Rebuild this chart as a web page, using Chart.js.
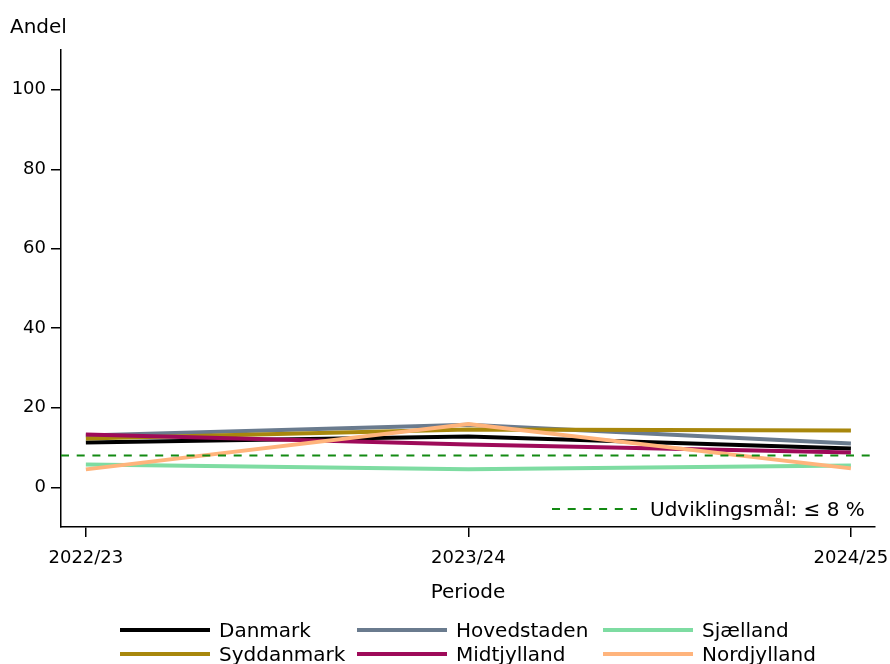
<!DOCTYPE html>
<html><head><meta charset="utf-8">
<script src="https://cdn.jsdelivr.net/npm/chart.js@4/dist/chart.umd.min.js"></script>
<style>html,body{margin:0;padding:0;background:#fff}canvas{display:block}</style>
</head><body>
<canvas id="c" width="890" height="664"></canvas>
<script>
// ---- data ----
const periods = ['2022/23', '2023/24', '2024/25'];
const danmark     = [11.25, 12.75, 9.75];
const hovedstaden = [13.0, 15.75, 11.0];
const sjaelland   = [5.75, 4.5, 5.5];
const syddanmark  = [12.25, 14.5, 14.25];
const midtjylland = [13.25, 10.75, 8.75];
const nordjylland = [4.5, 15.9, 4.75];
const target = 8;
const yTicks = [0, 20, 40, 60, 80, 100];
const seriesNames = ['Danmark', 'Hovedstaden', 'Sjælland', 'Syddanmark', 'Midtjylland', 'Nordjylland'];
const seriesValues = [danmark, hovedstaden, sjaelland, syddanmark, midtjylland, nordjylland];
const seriesColors = ['#000000', '#6a7b8e', '#7edca2', '#a8870c', '#9e0a59', '#ffb47c'];
const targetLabel = 'Udviklingsmål: ≤ 8 %';

const FONT = '"DejaVu Sans", "Liberation Sans", sans-serif';
const xMin = -0.065, xMax = 2.063;

const datasets = seriesNames.map((name, i) => ({
  label: name,
  data: seriesValues[i].map((v, j) => ({x: j, y: v})),
  borderColor: seriesColors[i],
  backgroundColor: seriesColors[i],
  borderWidth: 4,
  pointRadius: 0,
  tension: 0,
  fill: false,
  order: seriesNames.length - i + 1
}));
datasets.push({
  label: 'target',
  data: [{x: xMin, y: target}, {x: xMax, y: target}],
  borderColor: '#138a13',
  borderWidth: 2,
  borderDash: [8, 7.7],
  pointRadius: 0,
  fill: false,
  order: 0
});

const textPlugin = {
  id: 'texts',
  afterDraw(chart) {
    const c = chart.ctx;
    const ca = chart.chartArea;
    c.save();
    c.fillStyle = '#000';
    c.textBaseline = 'alphabetic';
    // y title
    c.font = '20px ' + FONT;
    c.textAlign = 'left';
    c.fillText('Andel', 10, 33);
    // x title
    c.textAlign = 'center';
    c.fillText('Periode', (ca.left + ca.right) / 2, 598);
    // target annotation
    c.strokeStyle = '#138a13';
    c.lineWidth = 2;
    c.setLineDash([8, 7.7]);
    c.beginPath(); c.moveTo(552, 509); c.lineTo(637, 509); c.stroke();
    c.setLineDash([]);
    c.font = '20px ' + FONT;
    c.textAlign = 'left';
    c.fillText(targetLabel, 650, 516);
    // legend
    const colX = [120, 357, 603];
    const rowY = [630, 654];
    c.font = '20px ' + FONT;
    seriesNames.forEach((n, i) => {
      const col = i % 3, row = Math.floor(i / 3);
      const x = colX[col], y = rowY[row];
      c.strokeStyle = seriesColors[i];
      c.lineWidth = 4;
      c.beginPath(); c.moveTo(x, y); c.lineTo(x + 90, y); c.stroke();
      c.fillText(n, x + 99, y + 7);
    });
    c.restore();
  }
};

new Chart(document.getElementById('c'), {
  type: 'line',
  data: {datasets},
  options: {
    responsive: false,
    animation: false,
    devicePixelRatio: 1,
    layout: {padding: {top: 50, right: 15, left: 0, bottom: 0}},
    plugins: {legend: {display: false}, tooltip: {enabled: false}},
    scales: {
      x: {
        type: 'linear', min: xMin, max: xMax,
        afterBuildTicks: s => { s.ticks = periods.map((p, i) => ({value: i})); },
        ticks: {callback: v => periods[v], font: {family: FONT, size: 18}, color: '#000', padding: 11, maxRotation: 0, autoSkip: false},
        grid: {drawOnChartArea: false, drawTicks: true, tickLength: 10, color: '#000', lineWidth: 1.5},
        border: {color: '#000', width: 1.5},
        afterFit: s => { s.height = 137; s.paddingLeft = 0; s.paddingRight = 0; }
      },
      y: {
        type: 'linear', min: -10, max: 110,
        afterBuildTicks: s => { s.ticks = yTicks.map(v => ({value: v})); },
        ticks: {font: {family: FONT, size: 18}, color: '#000', padding: 5},
        grid: {drawOnChartArea: false, drawTicks: true, tickLength: 10, color: '#000', lineWidth: 1.5},
        border: {color: '#000', width: 1.5},
        afterFit: s => { s.width = 61; s.paddingTop = 0; s.paddingBottom = 0; }
      }
    }
  },
  plugins: [textPlugin]
});
</script>
</body></html>
